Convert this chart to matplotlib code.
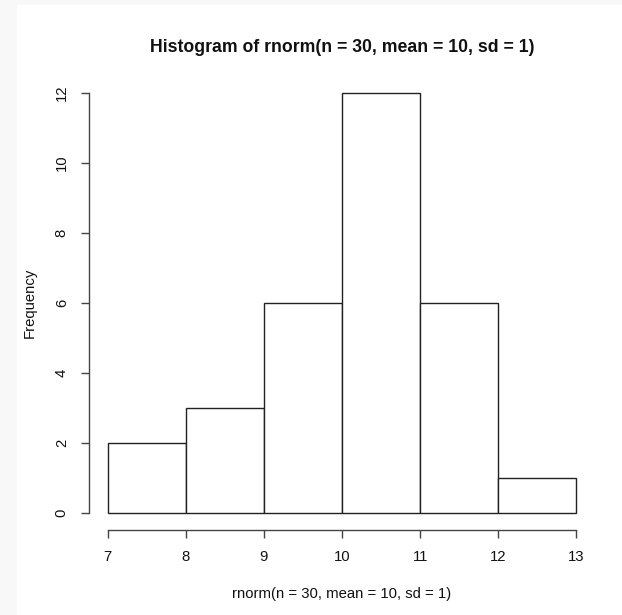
import numpy as np
import matplotlib
matplotlib.use('Agg')
import matplotlib.pyplot as plt
from matplotlib.patches import Rectangle

plt.rcParams['font.family'] = ['Liberation Sans', 'DejaVu Sans']

# histogram data
breaks = [7, 8, 9, 10, 11, 12, 13]
counts = [2, 3, 6, 12, 6, 1]
xticks = [7, 8, 9, 10, 11, 12, 13]
yticks = [0, 2, 4, 6, 8, 10, 12]

W, H = 622, 615
fig = plt.figure(figsize=(W / 100, H / 100), dpi=100)
fig.patch.set_facecolor('#f8f8f8')
fig.patches.append(Rectangle((17 / W, 0), 1 - 17 / W, 1 - 5 / H, transform=fig.transFigure,
                             facecolor='white', edgecolor='none', zorder=-10))

ax = fig.add_axes([89 / W, 1 - 530 / H, (595 - 89) / W, (530 - 76) / H])
ax.patch.set_alpha(0)

left = np.array(breaks[:-1])
widths = np.diff(breaks)
ax.bar(left, counts, width=widths, align='edge', facecolor='white',
       edgecolor='#222222', linewidth=1.0)

# R pads the range by 4% each side
xr = breaks[-1] - breaks[0]
yr = max(counts)
ax.set_xlim(breaks[0] - 0.04 * xr, breaks[-1] + 0.04 * xr)
ax.set_ylim(-0.04 * yr, yr * 1.04)

for s in ['top', 'right']:
    ax.spines[s].set_visible(False)
ax.spines['bottom'].set_bounds(xticks[0], xticks[-1])
ax.spines['left'].set_bounds(yticks[0], yticks[-1])
for s in ['bottom', 'left']:
    ax.spines[s].set_color('#444444')
    ax.spines[s].set_linewidth(1.0)

ax.set_xticks(xticks)
ax.set_yticks(yticks)
ax.tick_params(axis='both', direction='out', length=6, width=1.0, color='#444444',
               labelsize=10.7, labelcolor='#111111', pad=8.5)
ax.tick_params(axis='y', labelrotation=90)
for lab in ax.get_yticklabels():
    lab.set_verticalalignment('center')

fig.text((89 + 595) / 2 / W, 1 - 47 / H, 'Histogram of rnorm(n = 30, mean = 10, sd = 1)',
         ha='center', va='center', fontsize=12.7, fontweight='bold', color='#111111')
fig.text((89 + 595) / 2 / W, 1 - 594 / H, 'rnorm(n = 30, mean = 10, sd = 1)',
         ha='center', va='center', fontsize=10.7, color='#111111')
fig.text(30 / W, 1 - 303 / H, 'Frequency', ha='center', va='center', rotation=90,
         fontsize=10.7, color='#111111')

fig.savefig('out.png', dpi=100, facecolor=fig.get_facecolor())
